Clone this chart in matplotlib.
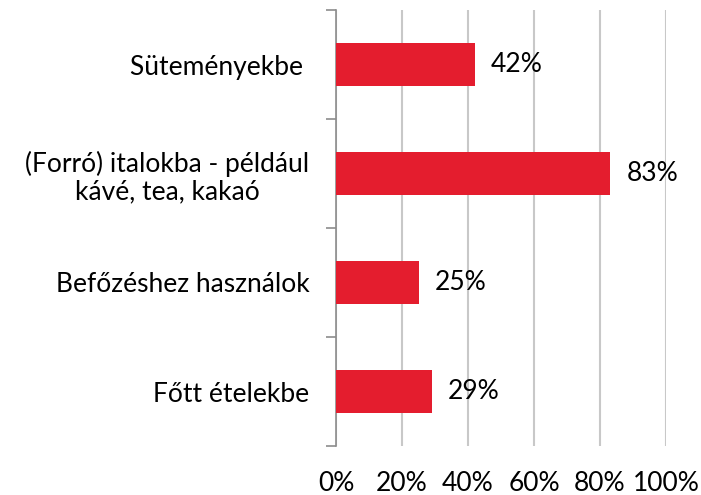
import matplotlib
matplotlib.use("Agg")
import matplotlib.pyplot as plt
import numpy as np

categories = ["Süteményekbe ", "(Forró) italokba - például\nkávé, tea, kakaó",
              "Befőzéshez használok", "Főtt ételekbe"]
values = [42, 83, 25, 29]
xticks = [0, 20, 40, 60, 80, 100]
xticklabels = ["0%", "20%", "40%", "60%", "80%", "100%"]

plt.rcParams['font.family'] = ['Lato', 'DejaVu Sans']

fig = plt.figure(figsize=(7.01, 4.95), dpi=100)
ax = fig.add_axes([336/701, 49/495, 330/701, 436/495])

FS = 19
y = np.arange(len(categories))
ax.barh(y, values, height=0.4, color="#E41D2E", zorder=3)
for yi, v in zip(y, values):
    ax.text(v + 5, yi, f"{v}%", va="center", ha="left", fontsize=FS, color="black", zorder=4)

ax.set_xlim(0, 100)
ax.set_ylim(len(categories) - 0.5, -0.5)
ax.set_xticks(xticks)
ax.set_xticklabels(xticklabels, fontsize=FS)
ax.tick_params(axis='x', length=0, pad=18)
ax.grid(axis='x', color="#C8C8C8", linewidth=1.5, zorder=0)

ax.set_yticks(y)
ax.set_yticklabels(categories, fontsize=FS, multialignment='center', linespacing=1.15)
ax.tick_params(axis='y', which='major', length=0, pad=19)
ax.set_yticks(np.arange(-0.5, len(categories), 1.0), minor=True)
ax.tick_params(axis='y', which='minor', length=7, width=1.2, color="#8C8C8C", direction='out')

for s in ['top', 'right', 'bottom']:
    ax.spines[s].set_visible(False)
ax.spines['left'].set_color("#8C8C8C")
ax.spines['left'].set_linewidth(1.2)

fig.savefig("out.png", dpi=100)
